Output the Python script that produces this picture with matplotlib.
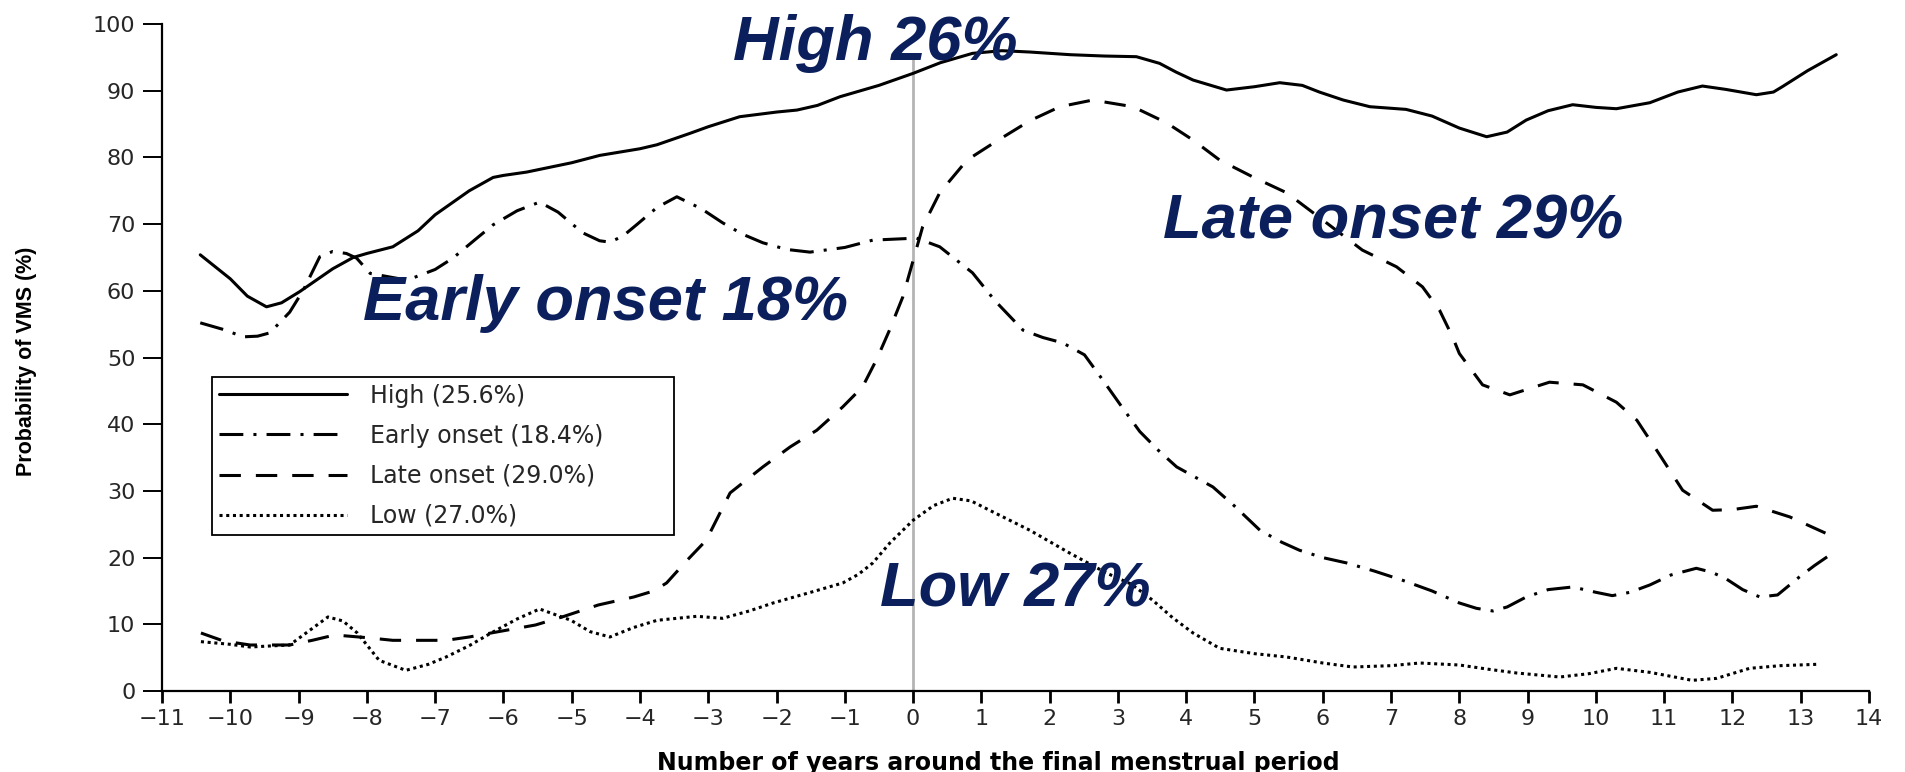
import matplotlib.pyplot as plt

# Trajectory group curves: years around FMP vs probability of VMS (%)
high_x = [-10.44, -10.0, -9.75, -9.47, -9.25, -8.98, -8.5, -8.2, -8.0, -7.62, -7.25, -7.0,
          -6.5, -6.15, -6.0, -5.66, -5.0, -4.59, -4.0, -3.75, -3.27, -3.0, -2.54, -2.0,
          -1.7, -1.4, -1.07, -0.5, 0.0, 0.4, 0.87, 1.3, 1.71, 2.3, 2.8, 3.27, 3.61, 3.85,
          4.1, 4.59, 5.0, 5.37, 5.7, 5.95, 6.3, 6.69, 7.22, 7.6, 8.0, 8.4, 8.7, 8.98, 9.3,
          9.66, 10.0, 10.3, 10.79, 11.2, 11.56, 11.9, 12.35, 12.6, 12.73, 13.1, 13.52]
high_y = [65.4, 61.8, 59.2, 57.6, 58.2, 59.9, 63.3, 65.0, 65.6, 66.6, 69.0, 71.4,
          75.0, 77.0, 77.3, 77.8, 79.2, 80.3, 81.3, 81.9, 83.6, 84.6, 86.1, 86.8,
          87.1, 87.8, 89.1, 90.8, 92.6, 94.2, 95.6, 96.0, 95.8, 95.4, 95.2, 95.1, 94.1, 92.8,
          91.6, 90.1, 90.6, 91.2, 90.8, 89.8, 88.6, 87.6, 87.2, 86.2, 84.4, 83.1, 83.8, 85.6, 87.0,
          87.9, 87.5, 87.3, 88.2, 89.8, 90.7, 90.2, 89.4, 89.8, 90.6, 93.0, 95.4]

early_x = [-10.44, -10.1, -9.81, -9.6, -9.42, -9.13, -8.93, -8.69, -8.5, -8.3, -8.15, -7.95,
           -7.41, -7.0, -6.74, -6.4, -6.15, -5.8, -5.47, -5.2, -4.84, -4.59, -4.44, -4.25,
           -4.05, -3.75, -3.46, -3.1, -2.79, -2.5, -2.2, -1.85, -1.51, -1.0, -0.59, 0.05,
           0.39, 0.87, 1.2, 1.61, 1.9, 2.19, 2.51, 2.78, 3.05, 3.32, 3.6, 3.86, 4.39, 4.7,
           5.08, 5.4, 5.66, 6.0, 6.35, 6.75, 7.17, 7.6, 8.0, 8.25, 8.49, 8.7, 8.98, 9.3,
           9.66, 10.0, 10.24, 10.5, 10.79, 11.1, 11.47, 11.7, 11.91, 12.15, 12.4, 12.66,
           12.98, 13.2, 13.47]
early_y = [55.2, 54.2, 53.1, 53.2, 53.7, 56.8, 60.1, 65.1, 65.9, 65.6, 64.9, 62.6,
           61.6, 63.2, 64.9, 67.8, 69.9, 72.0, 73.3, 71.8, 68.7, 67.5, 67.3, 68.2,
           69.9, 72.5, 74.1, 72.3, 70.2, 68.5, 67.2, 66.2, 65.8, 66.5, 67.6, 67.9,
           66.6, 62.7, 58.5, 54.1, 53.0, 52.2, 50.4, 46.6, 42.7, 38.9, 36.0, 33.6, 30.6, 27.8,
           24.1, 22.3, 21.1, 20.0, 19.2, 18.0, 16.6, 15.0, 13.2, 12.4, 12.0, 12.6, 14.1, 15.2,
           15.6, 14.8, 14.3, 14.8, 15.9, 17.4, 18.4, 17.8, 16.8, 15.2, 14.1, 14.4,
           17.1, 18.8, 20.7]

late_x = [-10.43, -10.1, -9.71, -9.13, -8.8, -8.47, -8.0, -7.62, -6.84, -6.5, -6.18, -5.53,
          -5.14, -4.61, -4.09, -3.8, -3.61, -3.31, -3.03, -2.68, -2.2, -1.8, -1.41, -1.03,
          -0.74, -0.53, -0.35, -0.15, 0.14, 0.39, 0.79, 1.2, 1.71, 2.15, 2.63, 3.22, 3.71,
          4.1, 4.49, 4.97, 5.47, 5.95, 6.58, 7.08, 7.46, 7.71, 7.9, 8.0, 8.34, 8.74, 9.32,
          9.81, 10.3, 10.6, 10.89, 11.27, 11.71, 12.0, 12.35, 12.84, 13.27, 13.4]
late_y = [8.7, 7.5, 6.9, 6.9, 7.6, 8.4, 8.0, 7.6, 7.6, 8.1, 8.7, 9.9,
          11.1, 12.9, 14.1, 15.0, 16.2, 19.6, 22.6, 29.7, 33.6, 36.6, 39.1, 42.6,
          45.6, 49.8, 54.0, 59.1, 69.6, 74.7, 79.6, 82.3, 85.5, 87.6, 88.6, 87.6, 85.2,
          82.6, 79.6, 77.1, 74.7, 71.0, 66.1, 63.6, 60.6, 57.1, 53.1, 50.6, 45.9, 44.4, 46.3,
          45.9, 43.3, 40.6, 36.1, 30.1, 27.1, 27.2, 27.7, 26.1, 24.1, 23.5]

low_x = [-10.43, -10.0, -9.71, -9.13, -8.85, -8.57, -8.35, -8.14, -7.82, -7.43, -7.1, -6.84,
         -6.5, -6.18, -5.8, -5.47, -5.01, -4.73, -4.44, -4.1, -3.75, -3.17, -2.79, -2.4,
         -2.05, -1.5, -1.03, -0.8, -0.59, -0.34, 0.0, 0.3, 0.58, 0.85, 1.12, 1.71, 2.29,
         2.83, 3.2, 3.51, 3.8, 4.1, 4.49, 5.0, 5.47, 6.0, 6.44, 7.0, 7.42, 8.0, 8.4, 8.84,
         9.47, 9.9, 10.3, 10.79, 11.41, 11.77, 12.25, 12.7, 13.23]
low_y = [7.4, 7.0, 6.6, 6.9, 9.0, 11.1, 10.5, 8.7, 4.6, 3.1, 4.0, 5.1,
         6.8, 8.7, 10.8, 12.3, 10.6, 8.9, 8.1, 9.5, 10.6, 11.2, 10.9, 12.0,
         13.2, 14.8, 16.2, 17.5, 19.2, 22.2, 25.6, 27.8, 28.9, 28.5, 27.1, 24.1, 20.7,
         17.7, 16.0, 13.6, 11.0, 8.7, 6.4, 5.6, 5.1, 4.2, 3.6, 3.8, 4.2, 3.9, 3.3, 2.7,
         2.1, 2.6, 3.4, 2.8, 1.6, 1.9, 3.4, 3.8, 4.0]

legend_labels = ["High (25.6%)", "Early onset (18.4%)", "Late onset (29.0%)", "Low (27.0%)"]
x_ticks = list(range(-11, 15))
y_ticks = list(range(0, 101, 10))

NAVY = "#0a1f5c"
TEXT_GREY = "#262626"
LW = 2.2


def main():
    fig = plt.figure(figsize=(19.06, 7.72), dpi=100)
    ax = fig.add_axes([0.085, 0.1049, 0.8956, 0.864])

    ax.axvline(0, ymax=0.95, color="#b4b4b4", lw=2, zorder=1)

    # dash lengths are in units of line width
    common = dict(color="black", lw=LW, solid_joinstyle="round", solid_capstyle="round")
    ax.plot(high_x, high_y, ls="-", label=legend_labels[0], **common)
    ax.plot(early_x, early_y, ls=(0, (7.8, 3.3, 1.0, 3.3)), label=legend_labels[1], **common)
    ax.plot(late_x, late_y, ls=(0, (7.0, 4.9)), label=legend_labels[2], **common)
    ax.plot(low_x, low_y, ls=(0, (1.0, 1.2)), label=legend_labels[3], **common)

    ax.set_xlim(-11, 14)
    ax.set_ylim(0, 100)
    ax.set_xticks(x_ticks)
    ax.set_yticks(y_ticks)

    for side in ("top", "right"):
        ax.spines[side].set_visible(False)
    for side in ("left", "bottom"):
        ax.spines[side].set_linewidth(1.6)

    ax.tick_params(axis="y", length=13.7, width=1.4, pad=5.5, labelsize=16,
                   labelcolor=TEXT_GREY)
    ax.tick_params(axis="x", length=8.6, width=2, pad=4, labelsize=16,
                   labelcolor=TEXT_GREY)

    ax.set_ylabel("Probability of VMS (%)", fontsize=15.5, fontweight="bold",
                  family="Liberation Sans")
    ax.yaxis.set_label_coords(-0.0735, 0.495)
    ax.set_xlabel("Number of years around the final menstrual period",
                  fontsize=17, fontweight="bold")
    ax.xaxis.set_label_coords(0.49, -0.09)

    leg = ax.legend(loc="lower left", bbox_to_anchor=(0.0293, 0.234, 0.2707, 0.24),
                    mode="expand", fontsize=17, handlelength=5.4, handletextpad=1.0,
                    labelspacing=0.68, borderpad=0.3, borderaxespad=0,
                    fancybox=False, edgecolor="black", framealpha=1)
    leg.get_frame().set_linewidth(1.3)
    for t in leg.get_texts():
        t.set_color(TEXT_GREY)

    callout = dict(fontsize=45.5, family="Liberation Sans", fontweight="bold",
                   style="italic", color=NAVY, ha="left", va="baseline", zorder=5)
    ax.text(-2.64, 94.6, "High 26%", **callout)
    ax.text(-8.06, 55.6, "Early onset 18%", **callout)
    ax.text(3.66, 67.9, "Late onset 29%", **callout)
    ax.text(-0.49, 12.6, "Low 27%", **callout)

    fig.savefig("out.png", dpi=100)


main()
